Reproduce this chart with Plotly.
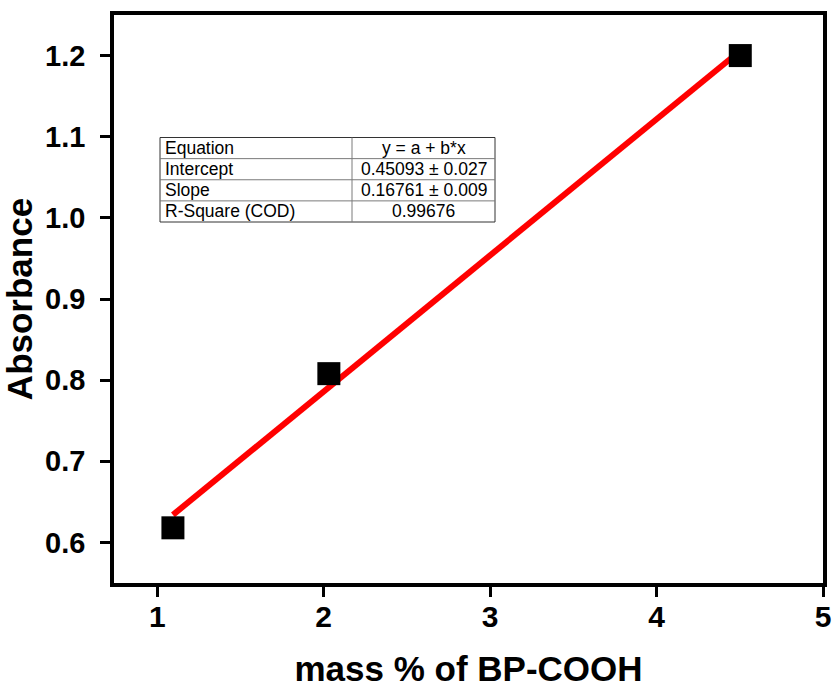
import plotly.graph_objects as go

# ---- data ----
mass_pct = [1.094, 2.031, 4.503]
absorbance = [0.618, 0.808, 1.200]
fit_x = [1.094, 4.503]
fit_y = [0.634, 1.206]

x_ticks = [1, 2, 3, 4, 5]
y_ticks = [0.6, 0.7, 0.8, 0.9, 1.0, 1.1, 1.2]
y_tick_labels = ["0.6", "0.7", "0.8", "0.9", "1.0", "1.1", "1.2"]

table_labels = ["Equation", "Intercept", "Slope", "R-Square (COD)"]
table_values = ["y = a + b*x", "0.45093 ± 0.027", "0.16761 ± 0.009", "0.99676"]

FONT = "Arial, Liberation Sans, sans-serif"

# layout geometry (pixels)
W, H = 834, 689
L, R, T, B = 114, 11, 15, 106
PW, PH = W - L - R, H - T - B


def px(x):
    return (x - L) / PW


def py(y):
    return (H - B - y) / PH


fig = go.Figure()
fig.add_trace(go.Scatter(
    x=fit_x, y=fit_y, mode="lines",
    line=dict(color="#ff0000", width=6), showlegend=False,
))
fig.add_trace(go.Scatter(
    x=mass_pct, y=absorbance, mode="markers",
    marker=dict(symbol="square", size=23, color="black"), showlegend=False,
))

# table drawn with shapes and annotations
tl, tr, tdiv = 160, 495, 352
ttop, tbot = 137.5, 222
rh = (tbot - ttop) / len(table_labels)
shapes = []
shapes.append(dict(type="rect", xref="paper", yref="paper",
                   x0=px(tl), x1=px(tr), y0=py(tbot), y1=py(ttop),
                   line=dict(color="#333333", width=1), fillcolor="white", layer="above"))
for i in range(1, len(table_labels)):
    yy = ttop + i * rh
    shapes.append(dict(type="line", xref="paper", yref="paper",
                       x0=px(tl), x1=px(tr), y0=py(yy), y1=py(yy),
                       line=dict(color="#7a7a7a", width=1), layer="above"))
shapes.append(dict(type="line", xref="paper", yref="paper",
                   x0=px(tdiv), x1=px(tdiv), y0=py(tbot), y1=py(ttop),
                   line=dict(color="#7a7a7a", width=1), layer="above"))

annotations = []
for i, (lab, val) in enumerate(zip(table_labels, table_values)):
    yc = ttop + (i + 0.5) * rh
    annotations.append(dict(xref="paper", yref="paper", x=px(tl + 3), y=py(yc),
                            xanchor="left", yanchor="middle", text=lab, showarrow=False,
                            font=dict(family=FONT, size=17.5, color="black")))
    annotations.append(dict(xref="paper", yref="paper", x=px((tdiv + tr) / 2), y=py(yc),
                            xanchor="center", yanchor="middle", text=val, showarrow=False,
                            font=dict(family=FONT, size=17.5, color="black")))

fig.update_layout(
    width=W, height=H,
    margin=dict(l=L, r=R, t=T, b=B),
    paper_bgcolor="white", plot_bgcolor="white",
    shapes=shapes, annotations=annotations,
    font=dict(family=FONT, color="black"),
)
fig.update_xaxes(
    range=[0.74, 5.0], tickvals=x_ticks, ticktext=[str(v) for v in x_ticks],
    showgrid=False, zeroline=False, automargin=False,
    showline=True, linecolor="black", linewidth=3.5, mirror=True,
    ticks="outside", ticklen=10, tickwidth=3, tickcolor="black",
    ticklabelstandoff=-6,
    tickfont=dict(family=FONT, size=30, color="black", weight="bold"),
    title=dict(text="mass % of BP-COOH", standoff=26,
               font=dict(family=FONT, size=35, color="black", weight="bold")),
)
fig.update_yaxes(
    range=[0.55, 1.25], tickvals=y_ticks, ticktext=y_tick_labels,
    showgrid=False, zeroline=False, automargin=False,
    showline=True, linecolor="black", linewidth=3.5, mirror=True,
    ticks="outside", ticklen=10, tickwidth=3, tickcolor="black",
    ticklabelstandoff=9,
    tickfont=dict(family=FONT, size=29, color="black", weight="bold"),
    title=dict(text="Absorbance", standoff=9,
               font=dict(family=FONT, size=35, color="black", weight="bold")),
)

fig.write_html("out.html")
